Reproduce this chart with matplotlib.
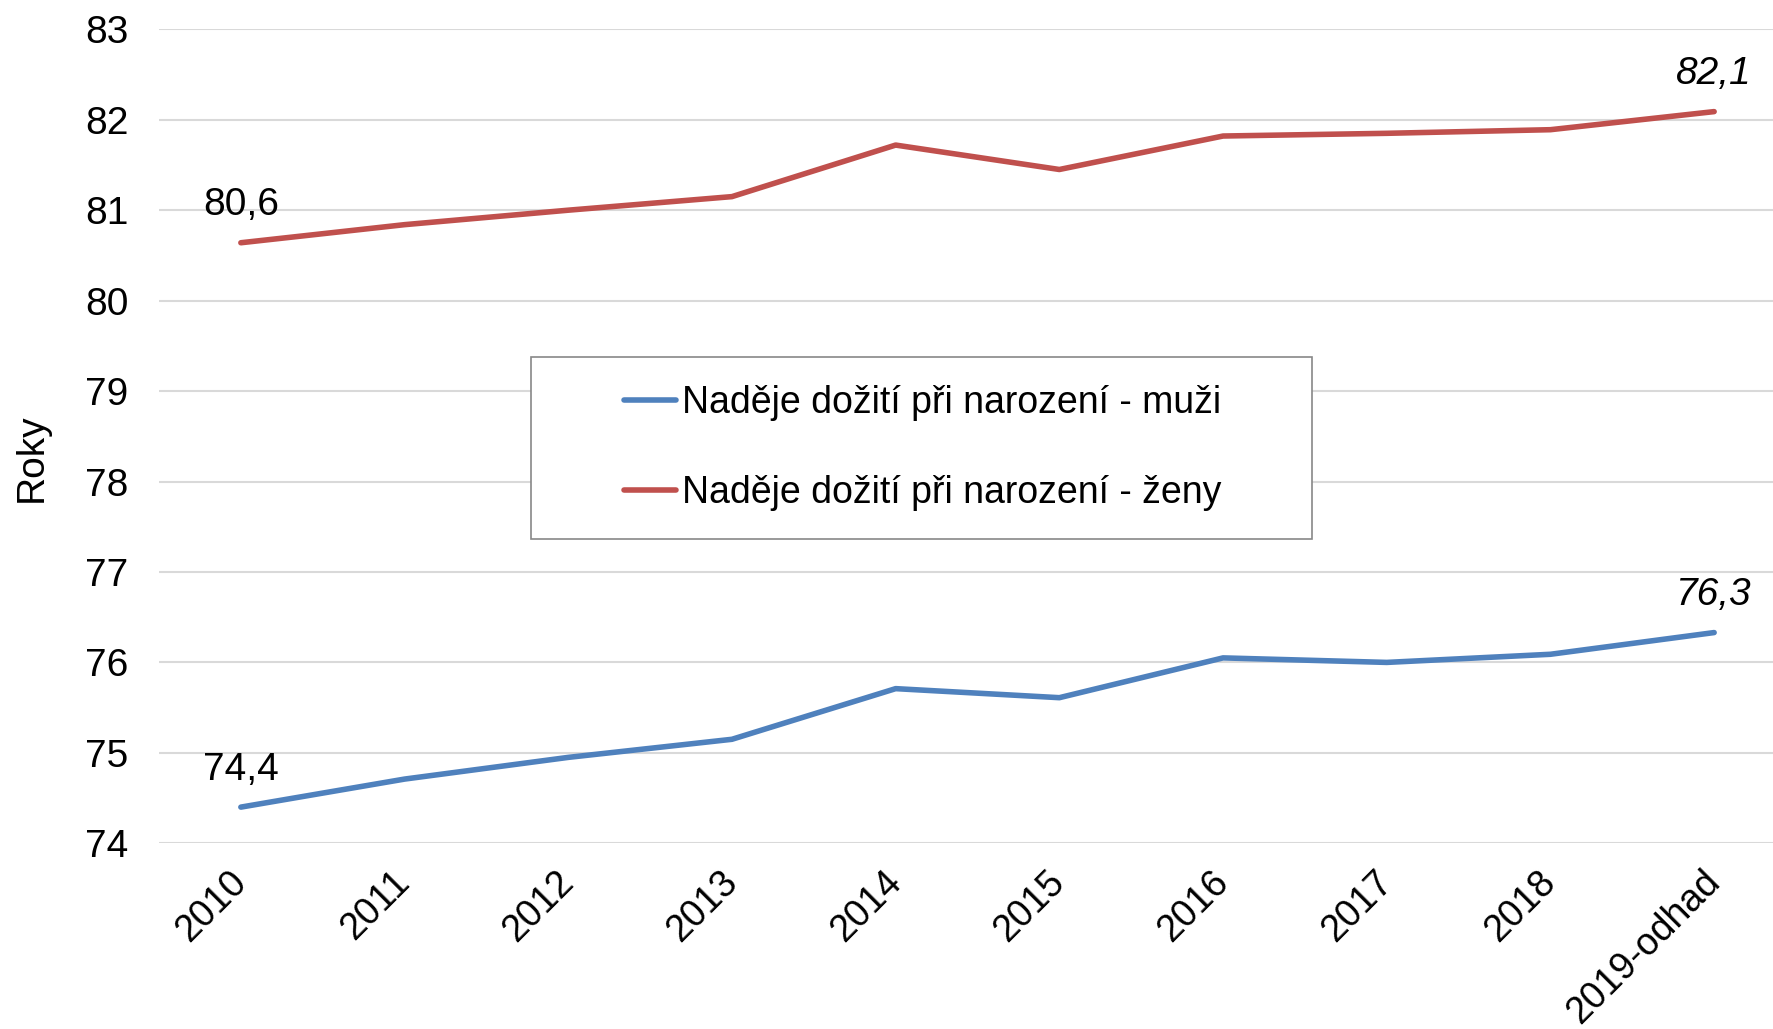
import matplotlib.pyplot as plt
from matplotlib.patches import Rectangle

plt.rcParams['font.family'] = ['Liberation Sans', 'DejaVu Sans']

roky = ["2010", "2011", "2012", "2013", "2014", "2015", "2016", "2017", "2018", "2019-odhad"]
muzi = [74.4, 74.71, 74.95, 75.15, 75.71, 75.61, 76.05, 76.0, 76.09, 76.33]
zeny = [80.64, 80.84, 81.0, 81.15, 81.72, 81.45, 81.82, 81.85, 81.89, 82.09]

W, H = 1773, 1029
fs = 28
fig = plt.figure(figsize=(W / 100, H / 100), dpi=100)
ax = fig.add_axes([159 / W, 1 - 843.3 / H, (1796 - 159) / W, (843.3 - 29.3) / H])

x = list(range(len(roky)))
ax.plot(x, muzi, color="#4F81BD", lw=4.0, solid_capstyle="round",
        label="Naděje dožití při narození - muži")
ax.plot(x, zeny, color="#C0504D", lw=4.0, solid_capstyle="round",
        label="Naděje dožití při narození - ženy")

# popisky prvni a posledni hodnoty
for serie in (muzi, zeny):
    ax.annotate(f"{serie[0]:.1f}".replace(".", ","), (x[0], serie[0]),
                xytext=(0, 27), textcoords="offset points",
                ha="center", va="center", fontsize=fs)
    ax.annotate(f"{serie[-1]:.1f}".replace(".", ","), (x[-1], serie[-1]),
                xytext=(0, 27), textcoords="offset points",
                ha="center", va="center", fontsize=fs, style="italic")

ax.set_xlim(-0.5, len(roky) - 0.5)
ax.set_ylim(74, 83)
ax.set_yticks(range(74, 84))
ax.set_xticks(x)
ax.set_xticklabels(roky, rotation=45, ha="right", va="center", rotation_mode="anchor")
ax.tick_params(axis="both", length=0, labelsize=fs)
ax.tick_params(axis="x", labelsize=27, pad=24)
ax.tick_params(axis="y", pad=22)
ax.grid(axis="y", color="#D9D9D9", lw=1.5)
ax.set_axisbelow(True)
for s in ax.spines.values():
    s.set_visible(False)

fig.text(32 / W, 1 - 458 / H, "Roky", rotation=90, ha="center", va="center", fontsize=fs)

# ramecek legendy
ax.add_patch(Rectangle((531 / W, 1 - 539 / H), 781 / W, 182 / H,
                       transform=fig.transFigure, facecolor="white",
                       edgecolor="#888888", lw=1.2, zorder=4, clip_on=False))
leg = ax.legend(loc="center left", bbox_to_anchor=(624 / W, 1 - 448 / H),
                bbox_transform=fig.transFigure, fontsize=27, frameon=False,
                handlelength=1.39, handletextpad=0.15, labelspacing=1.45,
                borderpad=0, borderaxespad=0)
leg.set_zorder(5)

fig.savefig("out.png", dpi=100)
